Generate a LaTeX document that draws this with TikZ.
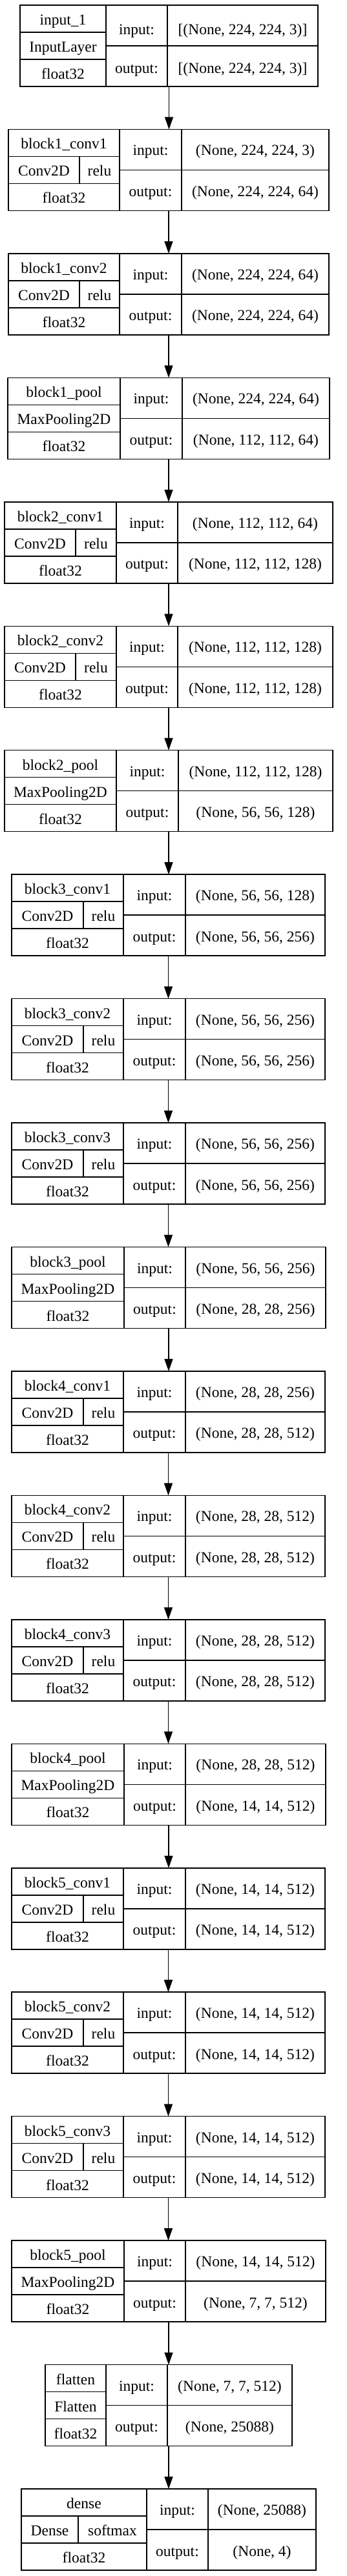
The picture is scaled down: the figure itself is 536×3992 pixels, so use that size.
\documentclass[tikz,border=0pt]{standalone}
\usepackage{fontspec}
\setmainfont{Liberation Serif}
\usetikzlibrary{arrows.meta}
\newcommand\geom[5]{\def\gl{#1}\def\ga{#2}\def\gb{#3}\def\gr{#4}\def\gs{#5}}
\def\dyi{0}\def\dyo{0}
\newcommand\lay[6]{%
  \pgfmathsetmacro\yt{8+#1*192.45}%
  \pgfmathsetmacro\w{\gr-\gl}%
  \node[boxst, minimum width=\w pt, anchor=north west] (L#1) at (\gl,\yt) {};
  \draw[ln] (\ga,\yt) -- (\ga,\yt+126) (\gb,\yt) -- (\gb,\yt+126)
            (\ga,\yt+63) -- (\gr,\yt+63)
            (\gl,\yt+42) -- (\ga,\yt+42) (\gl,\yt+84) -- (\ga,\yt+84);
  \node[txt] (L#1name) at ({(\gl+\ga)/2},\yt+30.5) {#2};
  \ifx\relax#4\relax
    \node[txt] (L#1type) at ({(\gl+\ga)/2},\yt+72.5) {#3};
  \else
    \draw[ln] (\gs,\yt+42) -- (\gs,\yt+84);
    \node[txt] (L#1type) at ({(\gl+\gs)/2},\yt+72.5) {#3};
    \node[txt] (L#1act) at ({(\gs+\ga)/2},\yt+72.5) {#4};
  \fi
  \node[txt] (L#1dt) at ({(\gl+\ga)/2},\yt+114.5) {float32};
  \node[txt] (L#1il) at ({(\ga+\gb)/2},\yt+40.5+\dyi) {input:};
  \node[txt] (L#1ol) at ({(\ga+\gb)/2},\yt+104+\dyo) {output:};
  \node[txt] (L#1iv) at ({(\gb+\gr)/2},\yt+40.5+\dyi) {#5};
  \node[txt] (L#1ov) at ({(\gb+\gr)/2},\yt+104+\dyo) {#6};
}
\begin{document}
\begin{tikzpicture}[x=1pt,y=-1pt,
  ln/.style={line width=1.5pt},
  boxst/.style={draw, line width=1.5pt, inner sep=0pt, outer sep=0pt, minimum height=126pt},
  txt/.style={anchor=base, inner sep=0pt, font=\fontsize{23.5}{28}\selectfont},
  arr/.style={line width=1.5pt, -{Triangle[length=19pt,width=13pt]}}]
\useasboundingbox (0,0) rectangle (536,3992);
\fill[white] (0,0) rectangle (536,3992);
\def\dyi{5}\def\dyo{1.5}
\geom{31}{164}{259}{492}{}
\lay{0}{input\_1}{InputLayer}{}{[(None, 224, 224, 3)]}{[(None, 224, 224, 3)]}
\def\dyi{0}\def\dyo{0}
\geom{13}{185}{281}{509}{123}
\lay{1}{block1\_conv1}{Conv2D}{relu}{(None, 224, 224, 3)}{(None, 224, 224, 64)}
\lay{2}{block1\_conv2}{Conv2D}{relu}{(None, 224, 224, 64)}{(None, 224, 224, 64)}
\geom{12}{186}{282}{510}{}
\lay{3}{block1\_pool}{MaxPooling2D}{}{(None, 224, 224, 64)}{(None, 112, 112, 64)}
\geom{7}{180}{275}{515}{117}
\lay{4}{block2\_conv1}{Conv2D}{relu}{(None, 112, 112, 64)}{(None, 112, 112, 128)}
\lay{5}{block2\_conv2}{Conv2D}{relu}{(None, 112, 112, 128)}{(None, 112, 112, 128)}
\geom{7}{180}{276}{515}{}
\lay{6}{block2\_pool}{MaxPooling2D}{}{(None, 112, 112, 128)}{(None, 56, 56, 128)}
\geom{18}{191}{287}{503}{129}
\lay{7}{block3\_conv1}{Conv2D}{relu}{(None, 56, 56, 128)}{(None, 56, 56, 256)}
\lay{8}{block3\_conv2}{Conv2D}{relu}{(None, 56, 56, 256)}{(None, 56, 56, 256)}
\lay{9}{block3\_conv3}{Conv2D}{relu}{(None, 56, 56, 256)}{(None, 56, 56, 256)}
\geom{18}{192}{287}{504}{}
\lay{10}{block3\_pool}{MaxPooling2D}{}{(None, 56, 56, 256)}{(None, 28, 28, 256)}
\geom{18}{191}{287}{503}{129}
\lay{11}{block4\_conv1}{Conv2D}{relu}{(None, 28, 28, 256)}{(None, 28, 28, 512)}
\lay{12}{block4\_conv2}{Conv2D}{relu}{(None, 28, 28, 512)}{(None, 28, 28, 512)}
\lay{13}{block4\_conv3}{Conv2D}{relu}{(None, 28, 28, 512)}{(None, 28, 28, 512)}
\geom{18}{192}{287}{504}{}
\lay{14}{block4\_pool}{MaxPooling2D}{}{(None, 28, 28, 512)}{(None, 14, 14, 512)}
\geom{18}{191}{287}{503}{129}
\lay{15}{block5\_conv1}{Conv2D}{relu}{(None, 14, 14, 512)}{(None, 14, 14, 512)}
\lay{16}{block5\_conv2}{Conv2D}{relu}{(None, 14, 14, 512)}{(None, 14, 14, 512)}
\lay{17}{block5\_conv3}{Conv2D}{relu}{(None, 14, 14, 512)}{(None, 14, 14, 512)}
\geom{18}{192}{287}{504}{}
\lay{18}{block5\_pool}{MaxPooling2D}{}{(None, 14, 14, 512)}{(None, 7, 7, 512)}
\geom{70}{164}{259}{452}{}
\lay{19}{flatten}{Flatten}{}{(None, 7, 7, 512)}{(None, 25088)}
\geom{33}{227}{322}{489}{121}
\lay{20}{dense}{Dense}{softmax}{(None, 25088)}{(None, 4)}
\foreach \i [evaluate=\i as \j using int(\i+1)] in {0,...,19}
  {\draw[arr] (L\i.south) -- (L\i.south |- L\j.north);}
\end{tikzpicture}
\end{document}
